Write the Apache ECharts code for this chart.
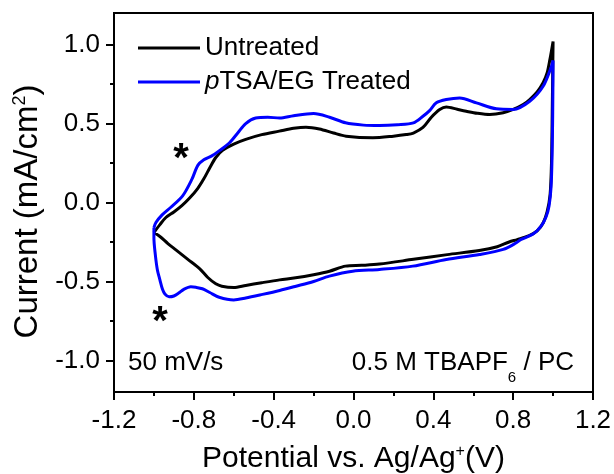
<!DOCTYPE html>
<html>
<head>
<meta charset="utf-8">
<script src="https://cdn.jsdelivr.net/npm/echarts@6/dist/echarts.min.js"></script>
<style>html,body{margin:0;padding:0;background:#fff}#c{width:614px;height:474px}</style>
</head>
<body>
<div id="c"></div>
<script>
// ---- Data (potential in V, current in mA/cm^2); each loop: anodic scan then cathodic scan ----
const seriesNames = ['Untreated', 'pTSA/EG Treated'];
const untreatedV = [-1.0,-0.97,-0.94,-0.90,-0.86,-0.82,-0.78,-0.75,-0.72,-0.69,-0.656,-0.60,-0.54,-0.46,-0.372,-0.30,-0.238,-0.171,-0.10,-0.037,0.097,0.20,0.264,0.30,0.348,0.39,0.432,0.465,0.52,0.565,0.62,0.683,0.75,0.80,0.85,0.883,0.92,0.95,0.97,0.984,1.0,
  0.996,0.992,0.985,0.97,0.95,0.92,0.88,0.82,0.78,0.72,0.63,0.47,0.30,0.13,0.04,-0.04,-0.12,-0.20,-0.29,-0.37,-0.46,-0.54,-0.60,-0.66,-0.69,-0.73,-0.77,-0.83,-0.89,-0.93,-0.97,-1.0];
const untreatedI = [-0.19,-0.14,-0.095,-0.06,-0.02,0.03,0.09,0.15,0.22,0.285,0.33,0.37,0.40,0.43,0.452,0.47,0.477,0.466,0.44,0.42,0.41,0.42,0.43,0.44,0.475,0.54,0.589,0.605,0.59,0.578,0.565,0.557,0.568,0.589,0.62,0.652,0.70,0.758,0.82,0.905,1.02,
  0.60,0.25,0.05,-0.06,-0.13,-0.18,-0.21,-0.235,-0.25,-0.28,-0.304,-0.33,-0.36,-0.39,-0.398,-0.403,-0.435,-0.457,-0.477,-0.49,-0.508,-0.525,-0.538,-0.53,-0.515,-0.475,-0.42,-0.36,-0.30,-0.26,-0.215,-0.19];
const treatedV = [-1.0,-0.99,-0.96,-0.915,-0.857,-0.81,-0.78,-0.75,-0.71,-0.67,-0.62,-0.58,-0.54,-0.49,-0.43,-0.37,-0.30,-0.20,-0.12,-0.04,0.05,0.13,0.22,0.30,0.348,0.38,0.415,0.465,0.532,0.616,0.716,0.80,0.883,0.95,0.992,1.0,
  0.998,0.995,0.99,0.98,0.965,0.94,0.90,0.84,0.816,0.75,0.632,0.465,0.297,0.13,-0.004,-0.121,-0.20,-0.288,-0.37,-0.456,-0.54,-0.60,-0.673,-0.72,-0.757,-0.79,-0.815,-0.85,-0.874,-0.90,-0.924,-0.945,-0.957,-0.97,-0.983,-0.993,-1.0,-1.0];
const treatedI = [-0.16,-0.127,-0.08,-0.03,0.04,0.146,0.235,0.27,0.295,0.33,0.38,0.44,0.50,0.535,0.54,0.535,0.55,0.563,0.54,0.505,0.49,0.487,0.492,0.504,0.546,0.58,0.631,0.652,0.662,0.631,0.593,0.589,0.641,0.736,0.863,0.90,
  0.55,0.30,0.10,-0.02,-0.09,-0.15,-0.20,-0.234,-0.255,-0.297,-0.329,-0.361,-0.403,-0.424,-0.435,-0.466,-0.50,-0.53,-0.557,-0.582,-0.605,-0.617,-0.60,-0.57,-0.546,-0.537,-0.534,-0.55,-0.572,-0.592,-0.597,-0.58,-0.55,-0.49,-0.424,-0.33,-0.225,-0.16];
const xTicks = [-1.2, 1.2, 0.4];           // min, max, interval
const yTickValues = [-1.0, -0.5, 0.0, 0.5, 1.0];
const yMinorValues = [-0.75, -0.25, 0.25, 0.75];
const yRange = [-1.2, 1.2];

const FONT = '"Liberation Sans", Arial, sans-serif';
const pairs = (xs, ys) => xs.map((x, i) => [x, ys[i]]);

const chart = echarts.init(document.getElementById('c'), null, {renderer: 'canvas'});
const axisLineStyle = {color: '#000', width: 2};
chart.setOption({
  animation: false,
  backgroundColor: '#fff',
  textStyle: {fontFamily: FONT},
  grid: {left: 114, right: 21, top: 13, bottom: 82, show: true, borderColor: '#000', borderWidth: 2, backgroundColor: 'transparent', outerBoundsMode: 'none', containLabel: false},
  legend: {
    data: seriesNames,
    orient: 'vertical',
    left: 138, top: 35, padding: 0,
    icon: 'rect', itemWidth: 62, itemHeight: 3, itemGap: 8,
    textStyle: {fontSize: 26, color: '#000', fontFamily: FONT, lineHeight: 26,
      rich: {i: {fontStyle: 'italic', fontSize: 26, color: '#000', fontFamily: FONT}}},
    formatter: n => n.charAt(0) === 'p' ? '{i|p}' + n.slice(1) : n
  },
  xAxis: {
    type: 'value', min: xTicks[0], max: xTicks[1], interval: xTicks[2],
    axisLine: {show: true, onZero: false, lineStyle: axisLineStyle},
    axisTick: {show: true, length: 8, lineStyle: axisLineStyle},
    minorTick: {show: true, splitNumber: 2, length: 4, lineStyle: axisLineStyle},
    splitLine: {show: false}, minorSplitLine: {show: false},
    axisLabel: {fontSize: 26, color: '#000', margin: 16, fontFamily: FONT, formatter: v => v.toFixed(1)},
    name: 'Potential vs. Ag/Ag{sup|+}(V)', nameLocation: 'middle', nameGap: 52,
    nameTextStyle: {fontSize: 30, color: '#000', fontFamily: FONT,
      rich: {sup: {fontSize: 16, verticalAlign: 'top', color: '#000', fontFamily: FONT}}}
  },
  yAxis: [{
    type: 'value', min: yRange[0], max: yRange[1],
    axisLine: {show: true, onZero: false, lineStyle: axisLineStyle},
    axisTick: {show: true, length: 8, lineStyle: axisLineStyle, customValues: yTickValues},
    axisLabel: {fontSize: 26, color: '#000', margin: 14, fontFamily: FONT, customValues: yTickValues, formatter: v => v.toFixed(1)},
    splitLine: {show: false},
    name: 'Current (mA/cm{sup|2})', nameLocation: 'middle', nameGap: 63, nameRotate: 90,
    nameTextStyle: {fontSize: 33, color: '#000', fontFamily: FONT, padding: [0, 18, 0, 0],
      rich: {sup: {fontSize: 18, verticalAlign: 'top', color: '#000', fontFamily: FONT}}}
  }, {
    type: 'value', min: yRange[0], max: yRange[1], position: 'left',
    axisLine: {show: false, onZero: false},
    axisTick: {show: true, length: 4, lineStyle: axisLineStyle, customValues: yMinorValues},
    axisLabel: {show: false},
    splitLine: {show: false}
  }],
  series: [{
    name: seriesNames[0], type: 'line', data: pairs(untreatedV, untreatedI),
    showSymbol: false, symbol: 'none', smooth: 0.3, z: 2,
    lineStyle: {color: '#000', width: 3}, itemStyle: {color: '#000'}
  }, {
    name: seriesNames[1], type: 'line', data: pairs(treatedV, treatedI),
    showSymbol: false, symbol: 'none', smooth: 0.3, z: 3,
    lineStyle: {color: '#0000ff', width: 3}, itemStyle: {color: '#0000ff'}
  }],
  graphic: [
    {type: 'text', x: 128, y: 363, style: {text: '50 mV/s', fontSize: 26, fontFamily: FONT, fill: '#000', textAlign: 'left', textVerticalAlign: 'middle', align: 'left', verticalAlign: 'middle'}},
    {type: 'text', x: 574, y: 363, style: {text: '0.5 M TBAPF{sub|6} / PC', fontSize: 26, fontFamily: FONT, fill: '#000', textAlign: 'right', textVerticalAlign: 'middle', align: 'right', verticalAlign: 'middle',
      rich: {sub: {fontSize: 15, lineHeight: 44, verticalAlign: 'bottom', fontFamily: FONT, fill: '#000'}}}},
    {type: 'text', x: 181, y: 160, style: {text: '*', fontSize: 40, fontWeight: 'bold', fontFamily: FONT, fill: '#000', textAlign: 'center', textVerticalAlign: 'middle', align: 'center', verticalAlign: 'middle'}},
    {type: 'text', x: 160, y: 323, style: {text: '*', fontSize: 40, fontWeight: 'bold', fontFamily: FONT, fill: '#000', textAlign: 'center', textVerticalAlign: 'middle', align: 'center', verticalAlign: 'middle'}}
  ]
});
</script>
</body>
</html>
